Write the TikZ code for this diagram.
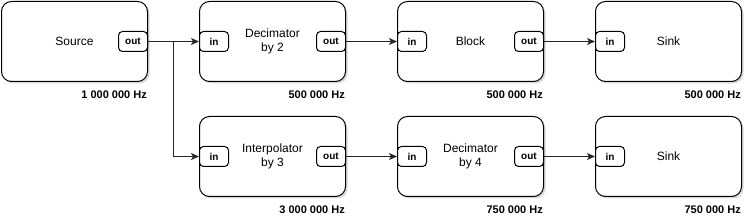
\documentclass[tikz,border=0pt]{standalone}
\usepackage{fontspec}
\setmainfont{Liberation Sans}
\usetikzlibrary{arrows.meta,shadows,calc}
\begin{document}
\begin{tikzpicture}[x=1pt,y=-1pt,
 blk/.style={draw=black, line width=1pt, rounded corners=10pt, fill=white, minimum width=146pt, minimum height=80pt, inner sep=0pt, anchor=north west, drop shadow={shadow xshift=2pt,shadow yshift=-2pt,opacity=0.3,fill=gray}},
 port/.style={draw=black, line width=1pt, rounded corners=4pt, fill=white, minimum width=29pt, minimum height=20pt, inner sep=0pt, font=\fontsize{10}{12}\selectfont\bfseries},
 pin/.style={port, anchor=west},
 pout/.style={port, anchor=east},
 lbl/.style={font=\fontsize{12}{14}\selectfont, align=center, inner sep=0pt},
 freq/.style={font=\fontsize{11}{13}\selectfont\bfseries, anchor=east, inner sep=0pt},
 conn/.style={line width=1pt, draw=black!85},
 arr/.style={conn, -{Stealth[length=8pt,width=7pt,inset=2pt]}}]
\useasboundingbox (0,0) rectangle (745,219);

% Row 1
\node[blk] (src) at (1,1) {};
\node[blk] (dec2) at (199,1) {};
\node[blk] (blk) at (397,1) {};
\node[blk] (snk1) at (595,1) {};
% Row 2
\node[blk] (int3) at (199,116) {};
\node[blk] (dec4) at (397,116) {};
\node[blk] (snk2) at (595,116) {};

% Labels
\node[lbl] (srct) at (src.center) {Source};
\node[lbl] (dec2t) at (dec2.center) {Decimator\\by 2};
\node[lbl] (blkt) at (blk.center) {Block};
\node[lbl] (snk1t) at (snk1.center) {Sink};
\node[lbl] (int3t) at (int3.center) {Interpolator\\by 3};
\node[lbl] (dec4t) at (dec4.center) {Decimator\\by 4};
\node[lbl] (snk2t) at (snk2.center) {Sink};

% Ports
\node[pout] (srcout) at (src.east) {out};
\node[pin] (dec2in) at (dec2.west) {in};
\node[pout] (dec2out) at (dec2.east) {out};
\node[pin] (blkin) at (blk.west) {in};
\node[pout] (blkout) at (blk.east) {out};
\node[pin] (snk1in) at (snk1.west) {in};
\node[pin] (int3in) at (int3.west) {in};
\node[pout] (int3out) at (int3.east) {out};
\node[pin] (dec4in) at (dec4.west) {in};
\node[pout] (dec4out) at (dec4.east) {out};
\node[pin] (snk2in) at (snk2.west) {in};

% Frequencies
\node[freq] (f1) at ([xshift=-1pt,yshift=-13pt]src.south east) {1 000 000 Hz};
\node[freq] (f2) at ([xshift=-1pt,yshift=-13pt]dec2.south east) {500 000 Hz};
\node[freq] (f3) at ([xshift=-1pt,yshift=-13pt]blk.south east) {500 000 Hz};
\node[freq] (f4) at ([xshift=-1pt,yshift=-13pt]snk1.south east) {500 000 Hz};
\node[freq] (f5) at ([xshift=-1pt,yshift=-13pt]int3.south east) {3 000 000 Hz};
\node[freq] (f6) at ([xshift=-1pt,yshift=-13pt]dec4.south east) {750 000 Hz};
\node[freq] (f7) at ([xshift=-1pt,yshift=-13pt]snk2.south east) {750 000 Hz};

% Connectors
\coordinate (br) at ($(srcout.east)!0.5!(dec2in.west)$);
\draw[arr] (srcout.east) -- (dec2in.west);
\draw[arr] (br) |- (int3in.west);
\draw[arr] (dec2out.east) -- (blkin.west);
\draw[arr] (blkout.east) -- (snk1in.west);
\draw[arr] (int3out.east) -- (dec4in.west);
\draw[arr] (dec4out.east) -- (snk2in.west);
\end{tikzpicture}
\end{document}
